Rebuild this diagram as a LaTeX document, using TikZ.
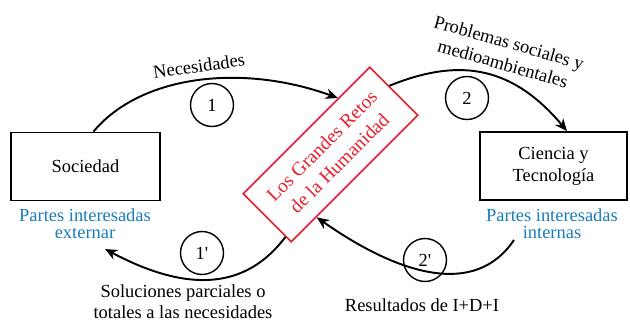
\documentclass[tikz,border=0pt]{standalone}
\usepackage{fontspec}
\setmainfont{Liberation Serif}
\usetikzlibrary{arrows.meta, positioning, calc}
\definecolor{retocolor}{RGB}{230,30,45}
\definecolor{partecolor}{RGB}{25,125,185}

\begin{document}
\begin{tikzpicture}[
    x=0.02cm, y=0.02cm,
    font=\fontsize{10.5}{12.5}\selectfont,
    actor/.style={draw, line width=1.1pt, minimum width=2.98cm, minimum height=1.36cm, align=center},
    reto/.style={draw=retocolor, text=retocolor, line width=0.9pt, minimum width=3.58cm, minimum height=1.36cm, align=center, rotate=45, font=\fontsize{11}{14}\selectfont},
    paso/.style={draw, circle, line width=0.8pt, minimum size=0.86cm, inner sep=0pt},
    parte/.style={text=partecolor, align=center, font=\fontsize{10.5}{9.5}\selectfont},
    flujo/.style={-{Stealth[length=7pt, width=6pt]}, line width=1.1pt}
]
    \useasboundingbox (0,0) rectangle (630,-321);

    % Actors
    \node[actor] (soc) at (85.5,-166.5) {Sociedad};
    \node[actor, minimum width=2.94cm] (cien) at (553.5,-166) {Ciencia y\\Tecnolog\'ia};
    \node[reto] (reto) at (330.5,-154.5) {Los Grandes Retos\\de la Humanidad};

    % Stakeholders
    \node[parte] (externas) at (85,-224) {Partes interesadas\\externar};
    \node[parte] (internas) at (552,-224) {Partes interesadas\\internas};

    % Steps
    \node[paso] (p1) at (212,-105) {1};
    \node[paso] (p2) at (467,-98) {2};
    \node[paso] (p1b) at (202,-253) {1\textquotesingle};
    \node[paso] (p2b) at (425,-260) {2\textquotesingle};

    % Flow labels
    \node[rotate=8] (necesidades) at (199,-66) {Necesidades};
    \node[rotate=-16, align=center] (problemas) at (506,-53) {Problemas sociales y\\medioambientales};
    \node[align=center, font=\fontsize{10.5}{12}\selectfont] (soluciones) at (183,-302) {Soluciones parciales o\\totales a las necesidades};
    \node (resultados) at (422,-305) {Resultados de I+D+I};

    % Free ends
    \coordinate (vuelta1) at (105,-249);
    \coordinate (salida2) at (514,-240);

    % Flows
    \draw[flujo] ([xshift=0.16cm]soc.north) .. controls +(50:75) and +(160:100) .. ($(reto.north west)!0.75!(reto.north east)$);
    \draw[flujo] ($(reto.north east)!0.4!(reto.south east)$) .. controls +(22:70) and +(130:90) .. ([xshift=0.27cm]cien.north);
    \draw[flujo] ($(reto.north west)!0.88!(reto.south west)$) .. controls +(233:65) and +(-28:95) .. (vuelta1);
    \draw[flujo] (salida2) .. controls +(236:70) and +(-35:100) .. ($(reto.south west)!0.2!(reto.south east)$);
\end{tikzpicture}
\end{document}
